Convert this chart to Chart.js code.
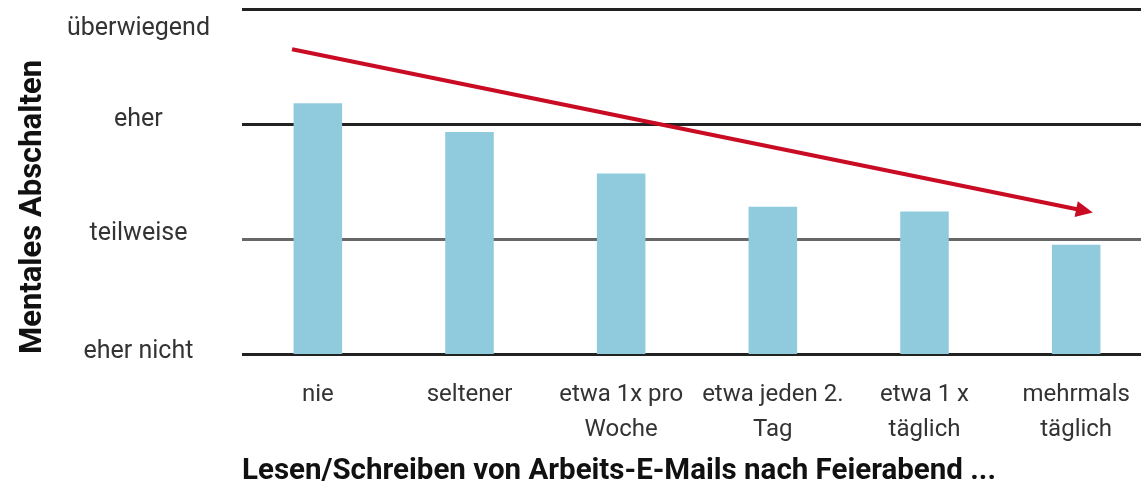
<!DOCTYPE html>
<html>
<head>
<meta charset="utf-8">
<script src="https://cdn.jsdelivr.net/npm/chart.js@4"></script>
<style>
  html, body { margin: 0; padding: 0; background: #fff; overflow: hidden; }
  /* plot runs slightly past the right edge of the window, as in the original */
  #wrap { width: 1152px; height: 486px; }
</style>
</head>
<body>
<div id="wrap"><canvas id="abschalten"></canvas></div>
<script>
// categories (x) and mean score per category (1 = eher nicht ... 4 = überwiegend)
const categories = [
  "nie",
  "seltener",
  ["etwa 1x pro", "Woche"],
  ["etwa jeden 2.", "Tag"],
  ["etwa 1 x", "täglich"],
  ["mehrmals", "täglich"],
];
const scores = [3.18, 2.93, 2.57, 2.28, 2.24, 1.95];

// y scale levels with gridlines, and their labels (labels sit a bit off the lines)
const gridLevels = [1, 2, 3, 4];
const levelLabels = ["eher nicht", "teilweise", "eher", "überwiegend"];
const labelLevels = [1.02, 2.045, 3.035, 3.83];

// trend arrow, in data units (category index, score)
const arrowFrom = [-0.17, 3.65];
const arrowTo = [5.11, 2.23];

const FONT = "Roboto";

const trendArrow = {
  id: 'trendArrow',
  afterDatasetsDraw(chart) {
    const { ctx, scales: { x, y } } = chart;
    const x0 = x.getPixelForValue(arrowFrom[0]);
    const y0 = y.getPixelForValue(arrowFrom[1]);
    const x1 = x.getPixelForValue(arrowTo[0]);
    const y1 = y.getPixelForValue(arrowTo[1]);
    const ang = Math.atan2(y1 - y0, x1 - x0);
    const headLen = 17, headHalf = 8;
    ctx.save();
    ctx.strokeStyle = '#c90b24';
    ctx.fillStyle = '#c90b24';
    ctx.lineWidth = 4;
    ctx.beginPath();
    ctx.moveTo(x0, y0);
    ctx.lineTo(x1 - Math.cos(ang) * headLen * 0.8, y1 - Math.sin(ang) * headLen * 0.8);
    ctx.stroke();
    ctx.translate(x1, y1);
    ctx.rotate(ang);
    ctx.beginPath();
    ctx.moveTo(0, 0);
    ctx.lineTo(-headLen, -headHalf);
    ctx.lineTo(-headLen, headHalf);
    ctx.closePath();
    ctx.fill();
    ctx.restore();
  }
};

const ctx = document.getElementById('abschalten').getContext('2d');
const abschaltenChart = new Chart(ctx, {
  type: 'bar',
  data: {
    labels: categories,
    datasets: [
      {
        label: "Mentales Abschalten",
        data: scores,
        backgroundColor: '#8fcbdc',
        barPercentage: 0.32,
        categoryPercentage: 1,
        yAxisID: 'yGrid',
      },
    ],
  },
  options: {
    responsive: true,
    maintainAspectRatio: false,
    animation: false,
    layout: { padding: { top: 9, right: 0, left: 0, bottom: 0 } },
    plugins: {
      legend: { display: false },
      tooltip: { enabled: false },
    },
    scales: {
      x: {
        offset: true,
        grid: { display: false },
        border: { display: false },
        ticks: {
          color: '#333',
          font: { family: FONT, size: 24, lineHeight: 1.46 },
          padding: 15,
          maxRotation: 0,
          autoSkip: false,
        },
        title: {
          display: true,
          text: "Lesen/Schreiben von Arbeits-E-Mails nach Feierabend ...",
          align: 'start',
          color: '#111',
          font: { family: FONT, size: 29.5, weight: 'bold', lineHeight: 1.1 },
          padding: { top: 8, bottom: -2 },
        },
        afterFit(scale) {
          scale.height = 132;
          scale.paddingLeft = 0;
          scale.paddingRight = 0;
        },
      },
      y: {
        position: 'left',
        min: 1,
        max: 4,
        grid: { display: false },
        border: { display: false },
        afterBuildTicks(axis) {
          axis.ticks = labelLevels.map(v => ({ value: v }));
        },
        ticks: {
          autoSkip: false,
          crossAlign: 'center',
          padding: 24,
          color: '#333',
          font: { family: FONT, size: 25 },
          callback: (v, i) => levelLabels[i],
        },
        title: {
          display: true,
          text: "Mentales Abschalten",
          align: 'start',
          color: '#111',
          font: { family: FONT, size: 31, weight: 'bold', lineHeight: 1.2 },
          padding: { top: 15, bottom: 0 },
        },
        afterFit(scale) {
          scale.width = 242;
          scale.paddingTop = 0;
          scale.paddingBottom = 0;
        },
      },
      yGrid: {
        position: 'left',
        min: 1,
        max: 4,
        afterBuildTicks(axis) {
          axis.ticks = gridLevels.map(v => ({ value: v }));
        },
        grid: {
          drawTicks: false,
          lineWidth: 3,
          color: c => (c.tick && c.tick.value === 2 ? '#676767' : '#222'),
        },
        border: { display: false },
        ticks: { display: false },
        afterFit(scale) {
          scale.width = 0;
          scale.paddingTop = 0;
          scale.paddingBottom = 0;
        },
      },
    },
  },
  plugins: [trendArrow],
});
</script>
</body>
</html>
